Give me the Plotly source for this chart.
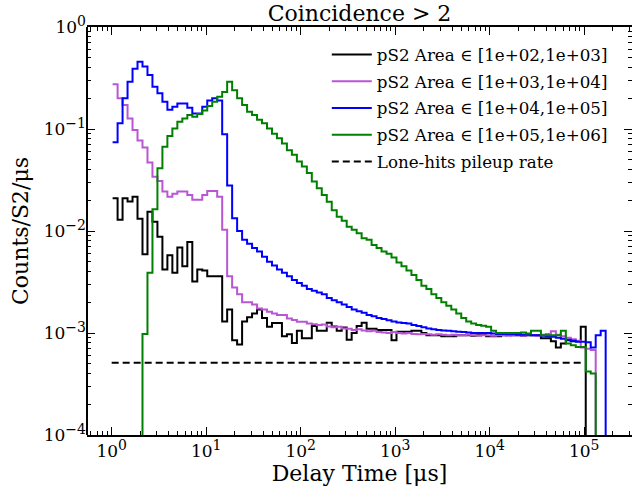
import numpy as np
import plotly.graph_objects as go

# Log-spaced delay-time bins (edges), 100 bins
bin_edges = np.logspace(0.01, 5.28, 101)

# Counts/S2/us per bin for each pS2 area range (0 = empty bin)
rate_1e2_1e3 = [
    0.021, 0.0129, 0.021, 0.0195, 0.0217, 0.0132, 0.0059, 0.0154, 0.0123, 0.0088,
    0.0042, 0.0058, 0.0039, 0.0069, 0.0045, 0.0078, 0.0032, 0.0042, 0.0041, 0.0036,
    0.0036, 0.0036, 0.0013, 0.0017, 0.00085, 0.00077, 0.0013, 0.00143, 0.00155, 0.0017,
    0.0014, 0.00115, 0.00125, 0.00125, 0.00093, 0.00097, 0.0008, 0.00105, 0.00089, 0.00089,
    0.00117, 0.00105, 0.00105, 0.00126, 0.00116, 0.00105, 0.00113, 0.00086, 0.001, 0.00117,
    0.00126, 0.0011, 0.0011, 0.00107, 0.00107, 0.00107, 0.00085, 0.00103, 0.00103, 0.00103,
    0.00105, 0.00105, 0.001, 0.00095, 0.00095, 0.00095, 0.00093, 0.00093, 0.00093, 0.00095,
    0.00095, 0.00095, 0.00094, 0.00095, 0.00096, 0.00093, 0.00093, 0.00093, 0.00095, 0.00096,
    0.00095, 0.00095, 0.00094, 0.00095, 0.00095, 0.00095, 0.00089, 0.00089, 0.00083, 0.00072,
    0.00079, 0.00085, 0.00083, 0.00083, 0.00115, 0, 0, 0, 0, 0,
]
rate_1e3_1e4 = [
    0.274, 0.2, 0.172, 0.127, 0.098, 0.077, 0.066, 0.047, 0.034, 0.031,
    0.0244, 0.0217, 0.0232, 0.0244, 0.0244, 0.0225, 0.0202, 0.0202, 0.0225, 0.0247,
    0.0247, 0.0217, 0.0103, 0.0036, 0.0028, 0.0024, 0.002, 0.002, 0.0019, 0.00174,
    0.0017, 0.00162, 0.00155, 0.0015, 0.0015, 0.00139, 0.00134, 0.00129, 0.00129, 0.00124,
    0.00122, 0.0012, 0.00121, 0.00116, 0.00114, 0.00115, 0.00111, 0.0011, 0.00107, 0.00109,
    0.00106, 0.00104, 0.00105, 0.00102, 0.00101, 0.001, 0.00102, 0.001, 0.00099, 0.001,
    0.00098, 0.00097, 0.00098, 0.00097, 0.00096, 0.00097, 0.00096, 0.00095, 0.00096, 0.00095,
    0.00095, 0.00096, 0.00095, 0.00094, 0.00095, 0.00095, 0.00094, 0.00095, 0.00095, 0.00094,
    0.00095, 0.00095, 0.00094, 0.00095, 0.00095, 0.00094, 0.00096, 0.00098, 0.00104, 0.00096,
    0.00093, 0.0009, 0.00087, 0.00084, 0.00072, 0.0007, 0.00068, 0, 0, 0,
]
rate_1e4_1e5 = [
    0.074, 0.114, 0.2, 0.29, 0.39, 0.457, 0.41, 0.338, 0.26, 0.224,
    0.185, 0.154, 0.165, 0.178, 0.178, 0.162, 0.142, 0.142, 0.165, 0.19,
    0.2, 0.19, 0.089, 0.028, 0.0133, 0.01, 0.0082, 0.0075, 0.0068, 0.0063,
    0.0056, 0.005, 0.0046, 0.0042, 0.0039, 0.0036, 0.0033, 0.0031, 0.0029, 0.0027,
    0.0026, 0.0025, 0.0024, 0.0022, 0.0021, 0.002, 0.0019, 0.0018, 0.0017, 0.00163,
    0.00158, 0.0015, 0.00146, 0.0014, 0.00137, 0.00133, 0.0013, 0.00127, 0.00125, 0.00124,
    0.0012, 0.00117, 0.00114, 0.00111, 0.00109, 0.00107, 0.00106, 0.00105, 0.00104, 0.00103,
    0.00102, 0.00101, 0.001, 0.001, 0.001, 0.001, 0.00099, 0.00098, 0.00098, 0.00097,
    0.00097, 0.00096, 0.00096, 0.00096, 0.00095, 0.00095, 0.00094, 0.00093, 0.00092, 0.0009,
    0.00088, 0.00086, 0.00084, 0.00082, 0.00082, 0.00081, 0.00072, 0.00095, 0.00105, 0,
]
rate_1e5_1e6 = [
    0, 0, 0, 0, 0, 0, 0.00098, 0.0039, 0.0163, 0.0412,
    0.067, 0.0856, 0.101, 0.118, 0.127, 0.137, 0.132, 0.14, 0.152, 0.168,
    0.185, 0.207, 0.23, 0.29, 0.24, 0.2, 0.172, 0.148, 0.137, 0.123,
    0.114, 0.101, 0.09, 0.081, 0.072, 0.062, 0.056, 0.048, 0.043, 0.037,
    0.0305, 0.0263, 0.0225, 0.0194, 0.016, 0.0138, 0.0126, 0.011, 0.0103, 0.0095,
    0.0085, 0.0082, 0.0073, 0.0068, 0.0063, 0.006, 0.0055, 0.0049, 0.0045, 0.0041,
    0.0037, 0.0033, 0.0029, 0.0027, 0.0024, 0.0022, 0.002, 0.00185, 0.0017, 0.00155,
    0.0014, 0.0013, 0.00124, 0.0012, 0.00118, 0.00115, 0.00105, 0.001, 0.001, 0.001,
    0.001, 0.001, 0.00101, 0.00099, 0.00105, 0.00105, 0.00095, 0.00095, 0.00095, 0.00095,
    0.00105, 0.00079, 0.00076, 0.00073, 0.00073, 0.00042, 0.0004, 0, 0, 0,
]

# Lone-hits pileup rate and the delay span it covers
pileup_rate = 5.1e-4
pileup_span = [1.0, 1.0e5]

series = [
    ("pS2 Area \u2208 [1e+02,1e+03]", rate_1e2_1e3, "black"),
    ("pS2 Area \u2208 [1e+03,1e+04]", rate_1e3_1e4, "#BA55D3"),
    ("pS2 Area \u2208 [1e+04,1e+05]", rate_1e4_1e5, "#0000FF"),
    ("pS2 Area \u2208 [1e+05,1e+06]", rate_1e5_1e6, "#008000"),
]

FLOOR = 1e-8  # empty bins drop below the visible range

fig = go.Figure()
for i, (name, vals, color) in enumerate(series):
    y = [v if v > 0 else FLOOR for v in vals]
    y = y + [y[-1]]
    fig.add_trace(go.Scatter(
        x=bin_edges, y=y, mode="lines", line_shape="hv",
        line=dict(color=color, width=2), name=name, legendgroup=f"g{i}",
    ))

fig.add_trace(go.Scatter(
    x=pileup_span, y=[pileup_rate, pileup_rate], mode="lines",
    line=dict(color="black", width=2, dash="7px,4px"),
    name="Lone-hits pileup rate", legendgroup="g4",
))

font_family = "DejaVu Serif"
SUP = "<sup><span style='font-size:14px'>%s</span></sup>"
x_major = [10.0 ** k for k in range(0, 6)]
x_minor = [m * 10.0 ** k for k in range(-1, 6) for m in range(2, 10)]
y_major = [10.0 ** k for k in range(-4, 1)]
y_minor = [m * 10.0 ** k for k in range(-4, 0) for m in range(2, 10)]

fig.update_xaxes(
    type="log", range=[-0.261, 5.506],
    tickvals=x_major,
    ticktext=["10" + SUP % k for k in range(0, 6)],
    ticks="inside", ticklen=8, tickwidth=1.2, tickcolor="black",
    showline=True, linewidth=2, linecolor="black", mirror="ticks",
    minor=dict(ticks="inside", ticklen=4, tickwidth=1, tickcolor="black",
               tickvals=x_minor, showgrid=False),
    showgrid=False, zeroline=False,
    tickfont=dict(family=font_family, size=17, color="black"),
    title=dict(text="Delay Time [\u03bcs]", font=dict(family=font_family, size=22), standoff=4),
)
fig.update_yaxes(
    type="log", range=[-4, 0],
    tickvals=y_major,
    ticktext=["10" + SUP % (("\u2212%d" % -k) if k < 0 else "0") for k in range(-4, 1)],
    ticks="inside", ticklen=8, tickwidth=1.2, tickcolor="black",
    showline=False, mirror="ticks",
    minor=dict(ticks="inside", ticklen=4, tickwidth=1, tickcolor="black",
               tickvals=y_minor, showgrid=False),
    showgrid=False, zeroline=False,
    tickfont=dict(family=font_family, size=17, color="black"),
    title=dict(text="Counts/S2/\u03bcs", font=dict(family=font_family, size=22), standoff=9),
)

fig.update_layout(
    width=632, height=491,
    margin=dict(l=87, r=0, t=27, b=56),
    plot_bgcolor="white", paper_bgcolor="white",
    font=dict(family=font_family, size=16, color="black"),
    title=dict(text="Coincidence > 2", x=0.5, xref="paper", xanchor="center",
               y=1 - 13 / 491, yref="container", yanchor="middle",
               font=dict(family=font_family, size=22, color="black")),
    legend=dict(x=0.44, xanchor="left", y=0.975, yanchor="top",
                bgcolor="rgba(0,0,0,0)", borderwidth=0, itemwidth=40,
                font=dict(family=font_family, size=16.7, color="black"),
                tracegroupgap=2),
    shapes=[dict(type="line", xref="paper", yref="paper", x0=0, x1=0, y0=0, y1=1,
                 line=dict(color="black", width=2))],
)

fig.write_html("out.html")
